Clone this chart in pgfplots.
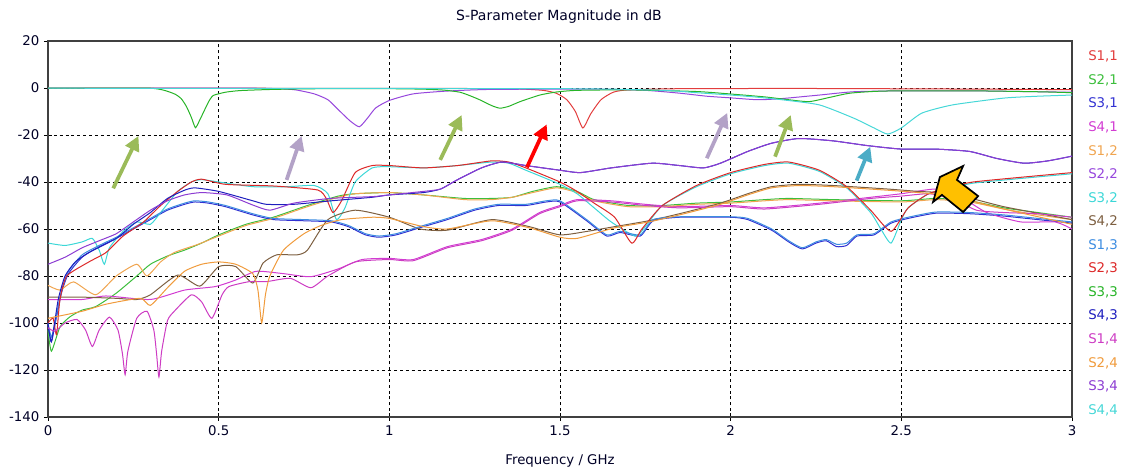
\documentclass[border=0pt]{standalone}
\usepackage{pgfplots}
\pgfplotsset{compat=1.18}
\usepackage{fontspec}
\setmainfont{DejaVu Sans}
\usetikzlibrary{arrows.meta}
\definecolor{c11}{RGB}{226,61,61}
\definecolor{c21}{RGB}{60,190,60}
\definecolor{c31}{RGB}{50,50,210}
\definecolor{c41}{RGB}{210,60,210}
\definecolor{c12}{RGB}{240,165,80}
\definecolor{c22}{RGB}{150,70,220}
\definecolor{c32}{RGB}{60,215,215}
\definecolor{c42}{RGB}{125,95,65}
\definecolor{c13}{RGB}{60,140,225}
\definecolor{c23}{RGB}{220,40,40}
\definecolor{c33}{RGB}{40,180,40}
\definecolor{c43}{RGB}{30,30,190}
\definecolor{c14}{RGB}{205,60,195}
\definecolor{c24}{RGB}{240,155,60}
\definecolor{c34}{RGB}{140,60,210}
\definecolor{c44}{RGB}{70,215,215}
\definecolor{agreen}{RGB}{155,187,89}
\definecolor{apurple}{RGB}{179,162,199}
\definecolor{ateal}{RGB}{75,172,198}
\definecolor{aorange}{RGB}{255,192,0}
\begin{document}
\begin{tikzpicture}
\path[use as bounding box] (-36pt,-39.75pt) rectangle (807.75pt,312.75pt);
\begin{axis}[
  at={(0pt,0pt)}, anchor=south west,
  width=768pt, height=282pt, scale only axis,
  xmin=0, xmax=3, ymin=-140, ymax=20,
  xtick={0,0.5,1,1.5,2,2.5,3},
  xticklabels={0,0.5,1,1.5,2,2.5,3},
  ytick={-140,-120,-100,-80,-60,-40,-20,0,20},
  yticklabels={-140,-120,-100,-80,-60,-40,-20,0,20},
  ticklabel style={font=\fontsize{10}{12}\selectfont, text=black!85!blue},
  grid=major,
  major grid style={black, line width=0.6pt, dash pattern=on 2.2pt off 2.2pt},
  axis line style={black!75, line width=0.9pt},
  tick style={black, line width=0.7pt},
  tick align=center, major tick length=6pt,
  xtick pos=bottom, ytick pos=left,
  no markers, clip=false,
  every axis plot/.append style={line width=0.75pt, smooth, tension=0.35},
]
% S1,1
\addplot[c11] coordinates {(0,-0.1)(0.5,-0.1)(1.0,-0.15)(1.35,-0.3)(1.45,-1)(1.49,-2.3)(1.52,-5)(1.545,-10)(1.567,-17)(1.59,-11)(1.62,-5)(1.656,-1.8)(1.7,-0.8)(1.85,-0.3)(2.2,-0.2)(2.6,-0.4)(3.0,-0.7)};
% S2,1
\addplot[c21] coordinates {(0,-103)(0.01,-112)(0.035,-101.7)(0.064,-97.4)(0.1,-94.5)(0.14,-93)(0.2,-87.3)(0.26,-80)(0.3,-75)(0.35,-71.5)(0.4,-69)(0.45,-66)(0.5,-62.5)(0.58,-58)(0.66,-55)(0.76,-50)(0.85,-46)(0.9,-45)(1.0,-44.5)(1.1,-45.5)(1.22,-47)(1.3,-47)(1.36,-46.5)(1.42,-44)(1.49,-42)(1.55,-44)(1.6,-47.5)(1.7,-50)(1.8,-50)(1.9,-49)(2.0,-48.5)(2.1,-47.5)(2.17,-47)(2.3,-47.5)(2.5,-48)(2.6,-47)(2.7,-48)(2.8,-51)(2.9,-53)(3.0,-55)};
% S3,1
\addplot[c31] coordinates {(0,-101)(0.01,-108)(0.02,-101)(0.04,-87)(0.06,-79)(0.1,-72)(0.15,-67.5)(0.2,-64)(0.25,-60)(0.3,-56)(0.35,-52)(0.4,-49.5)(0.43,-48.5)(0.47,-49)(0.52,-50.5)(0.6,-54)(0.66,-56)(0.75,-56.5)(0.83,-57)(0.88,-59)(0.93,-62.5)(0.97,-63.5)(1.02,-62.5)(1.1,-59)(1.17,-56)(1.25,-52)(1.32,-50)(1.4,-50)(1.46,-48.5)(1.5,-48.5)(1.578,-56.5)(1.637,-63)(1.676,-61.5)(1.735,-63)(1.773,-56.5)(1.85,-55)(2.0,-55)(2.05,-56)(2.12,-60.5)(2.17,-65.5)(2.21,-68.5)(2.25,-66)(2.28,-65)(2.31,-67.5)(2.34,-67)(2.37,-63)(2.42,-62.5)(2.47,-57.5)(2.52,-55.5)(2.6,-53.3)(2.7,-53.5)(2.8,-54.5)(2.9,-56)(3.0,-57.5)};
% S4,1
\addplot[c41] coordinates {(0,-90)(0.1,-90)(0.17,-88.5)(0.3,-90)(0.4,-86)(0.49,-84.5)(0.55,-81.7)(0.61,-78)(0.69,-79)(0.77,-80.3)(0.85,-77)(0.92,-73)(1.0,-72.5)(1.07,-73)(1.17,-67.5)(1.27,-64.5)(1.36,-60)(1.44,-53)(1.5,-50)(1.55,-47.5)(1.65,-48)(1.75,-49.5)(1.85,-50.5)(2.0,-50)(2.1,-51)(2.26,-49)(2.41,-46.5)(2.5,-45)(2.6,-43)(2.67,-46)(2.75,-53)(2.85,-57)(2.95,-57)(3.0,-60)};
% S1,2
\addplot[c12] coordinates {(0,-84)(0.035,-86)(0.075,-82.5)(0.14,-88)(0.2,-80)(0.26,-75)(0.29,-80)(0.33,-74)(0.37,-70)(0.44,-66.5)(0.5,-63)(0.58,-58.5)(0.66,-55.5)(0.76,-50.5)(0.85,-46.5)(0.9,-45)(1.0,-44.5)(1.1,-45.5)(1.22,-47.5)(1.3,-47.5)(1.36,-46.5)(1.42,-44.5)(1.49,-42.5)(1.55,-44.5)(1.6,-48)(1.7,-50.5)(1.8,-50.5)(1.9,-49.5)(2.0,-49)(2.1,-48)(2.17,-47.5)(2.3,-48)(2.5,-48.5)(2.6,-47.5)(2.7,-48.5)(2.8,-51.5)(2.9,-54)(3.0,-56)};
% S2,2
\addplot[c22] coordinates {(0,-0.1)(0.6,-0.1)(0.7,-0.5)(0.73,-0.9)(0.78,-2.5)(0.82,-5)(0.856,-10)(0.885,-14)(0.912,-16.5)(0.935,-13)(0.96,-8.5)(1.0,-5.3)(1.07,-2.5)(1.17,-1.3)(1.3,-0.6)(1.6,-0.5)(1.75,-1)(1.85,-2.2)(1.93,-3.5)(2.0,-4.2)(2.08,-5)(2.15,-4.5)(2.26,-3)(2.36,-1.6)(2.5,-1.2)(2.7,-1.2)(2.85,-1.5)(3.0,-1.8)};
% S3,2
\addplot[c32] coordinates {(0,-66)(0.05,-67)(0.1,-65.5)(0.13,-64)(0.15,-69)(0.165,-75)(0.18,-68)(0.22,-61)(0.26,-57)(0.3,-58)(0.33,-53)(0.38,-44)(0.42,-40)(0.45,-39)(0.5,-40)(0.6,-42)(0.7,-42)(0.78,-41.5)(0.82,-45)(0.845,-56)(0.87,-51)(0.9,-40)(0.95,-34)(1.0,-33.5)(1.1,-34)(1.2,-33)(1.3,-31.5)(1.35,-32)(1.4,-35)(1.5,-41)(1.55,-45)(1.6,-51)(1.65,-57)(1.72,-63)(1.75,-59)(1.8,-50)(1.9,-42)(2.0,-36.5)(2.1,-33)(2.17,-32)(2.26,-35.5)(2.34,-42.5)(2.41,-53)(2.44,-60)(2.47,-66)(2.5,-56)(2.52,-51)(2.58,-45)(2.65,-42.5)(2.71,-40.5)(2.85,-38.5)(3.0,-36.5)};
% S4,2
\addplot[c42] coordinates {(0,-89)(0.1,-89)(0.2,-89.5)(0.26,-90)(0.3,-88)(0.38,-79.6)(0.445,-84.3)(0.5,-76)(0.55,-76)(0.6,-83)(0.63,-74.5)(0.67,-71)(0.73,-71)(0.76,-69)(0.82,-56)(0.9,-52)(1.0,-55)(1.09,-60)(1.17,-60.5)(1.3,-56)(1.41,-59)(1.5,-62.5)(1.58,-61)(1.66,-59)(1.76,-56.5)(1.85,-53.5)(1.97,-49)(2.05,-45)(2.12,-42)(2.2,-41)(2.3,-41.5)(2.46,-43)(2.55,-44)(2.65,-45)(2.8,-50.5)(3.0,-56)};
% S1,3
\addplot[c13] coordinates {(0,-100)(0.01,-106)(0.02,-100)(0.04,-86)(0.06,-78)(0.1,-71)(0.15,-67)(0.2,-63.5)(0.25,-59.5)(0.3,-55.5)(0.35,-51.5)(0.4,-49)(0.43,-48)(0.47,-48.5)(0.52,-50)(0.6,-53.5)(0.66,-55.5)(0.75,-56)(0.83,-56.5)(0.88,-58.5)(0.93,-62)(0.97,-63)(1.02,-62)(1.1,-58.5)(1.17,-55.5)(1.25,-51.5)(1.32,-49.5)(1.4,-49.5)(1.46,-48)(1.5,-48)(1.578,-56)(1.637,-62.5)(1.676,-61)(1.735,-62.5)(1.773,-56)(1.85,-54.8)(2.0,-54.8)(2.05,-55.5)(2.12,-60)(2.17,-65)(2.21,-68)(2.25,-65.5)(2.28,-64.5)(2.31,-66.5)(2.34,-66)(2.37,-62.5)(2.42,-62)(2.47,-57)(2.52,-55)(2.6,-52.8)(2.7,-53)(2.8,-54)(2.9,-55.5)(3.0,-57)};
% S2,3
\addplot[c23] coordinates {(0,-100)(0.015,-98)(0.025,-105)(0.035,-90)(0.055,-80)(0.12,-74)(0.17,-70)(0.22,-63)(0.28,-57)(0.33,-50)(0.38,-44)(0.42,-40)(0.45,-38.8)(0.52,-41)(0.66,-41.7)(0.79,-43.4)(0.815,-47)(0.835,-53)(0.86,-48)(0.9,-36)(0.95,-33)(1.0,-33)(1.1,-34)(1.2,-33)(1.3,-31)(1.35,-31.5)(1.4,-34)(1.5,-40)(1.55,-44)(1.6,-49)(1.66,-55)(1.71,-66)(1.74,-60)(1.8,-50)(1.9,-41.5)(2.0,-36)(2.1,-32.5)(2.17,-31.5)(2.26,-35)(2.34,-42)(2.41,-52)(2.47,-61)(2.52,-51)(2.58,-45)(2.65,-42)(2.71,-40)(2.85,-38)(3.0,-36)};
% S3,3
\addplot[c33] coordinates {(0,-0.1)(0.3,-0.1)(0.367,-2.3)(0.39,-4.5)(0.406,-8)(0.42,-12.5)(0.432,-16.9)(0.445,-13.5)(0.455,-10.5)(0.47,-6)(0.484,-3.2)(0.52,-1.8)(0.563,-1.1)(0.66,-0.6)(0.8,-0.3)(1.0,-0.3)(1.1,-0.5)(1.16,-0.9)(1.207,-1.8)(1.24,-3.5)(1.266,-5.1)(1.3,-7.5)(1.324,-8.6)(1.35,-7.8)(1.383,-5.8)(1.441,-3)(1.49,-1.7)(1.55,-1)(1.7,-0.8)(1.9,-1.5)(2.02,-2.8)(2.1,-3.8)(2.17,-5)(2.23,-5.8)(2.29,-4)(2.35,-2.2)(2.45,-1.3)(2.7,-1.2)(2.9,-1.6)(3.0,-2.0)};
% S4,3
\addplot[c43] coordinates {(0,-100)(0.01,-108)(0.03,-90)(0.05,-80)(0.08,-74)(0.12,-70)(0.2,-64)(0.25,-58)(0.3,-53)(0.35,-47)(0.4,-43.5)(0.43,-42.5)(0.5,-44)(0.6,-48)(0.64,-49.5)(0.72,-49.5)(0.83,-48)(0.95,-46.5)(1.0,-45.5)(1.1,-44.5)(1.15,-43)(1.2,-39)(1.27,-34)(1.33,-31.5)(1.4,-33)(1.5,-35)(1.56,-36)(1.65,-34)(1.77,-32)(1.85,-33)(1.92,-34)(1.97,-32)(2.05,-27)(2.12,-23.5)(2.2,-21.5)(2.3,-22.5)(2.4,-24.5)(2.5,-26)(2.6,-26)(2.7,-27)(2.78,-30)(2.86,-32)(2.93,-31)(3.0,-29)};
% S1,4
\addplot[c14] coordinates {(0,-102)(0.02,-103.5)(0.05,-100)(0.085,-98.5)(0.11,-103)(0.13,-110)(0.15,-103)(0.18,-97.5)(0.205,-103)(0.218,-113)(0.226,-122)(0.234,-112)(0.26,-98)(0.29,-95)(0.31,-103)(0.318,-113)(0.325,-123)(0.333,-112)(0.35,-99)(0.37,-95)(0.42,-88)(0.45,-91)(0.48,-98)(0.51,-88)(0.53,-84.5)(0.59,-82.4)(0.64,-82.4)(0.71,-81)(0.77,-85)(0.82,-80)(0.9,-74)(1.0,-73)(1.07,-73.5)(1.17,-68)(1.27,-65)(1.36,-60.5)(1.44,-53.5)(1.5,-50.5)(1.55,-48)(1.65,-48.5)(1.75,-50)(1.85,-51)(2.0,-50.5)(2.1,-51.5)(2.26,-49.5)(2.41,-47)(2.5,-46)(2.58,-45)(2.65,-47)(2.72,-52)(2.8,-53)(2.9,-53.5)(3.0,-55)};
% S2,4
\addplot[c24] coordinates {(0,-98)(0.1,-95)(0.17,-92)(0.27,-89.5)(0.3,-92.5)(0.35,-85)(0.4,-78)(0.45,-75)(0.5,-74)(0.55,-75)(0.6,-79)(0.615,-86)(0.626,-100)(0.637,-88)(0.65,-80)(0.69,-69)(0.75,-62)(0.8,-58.5)(0.86,-56)(0.95,-55)(1.0,-55.5)(1.1,-59)(1.17,-60)(1.3,-56.5)(1.41,-59.5)(1.5,-63.5)(1.55,-64)(1.66,-59.5)(1.76,-57)(1.85,-54)(1.97,-49.5)(2.05,-45.5)(2.12,-42.5)(2.2,-41.5)(2.3,-42)(2.46,-43.5)(2.55,-44.5)(2.65,-46)(2.8,-51.5)(3.0,-58)};
% S3,4
\addplot[c34] coordinates {(0,-75)(0.05,-72)(0.1,-68)(0.15,-65)(0.2,-62)(0.25,-57)(0.3,-52)(0.35,-48)(0.4,-45.5)(0.45,-44.5)(0.524,-45.5)(0.6,-49.8)(0.65,-52)(0.72,-49)(0.826,-47)(0.953,-46.2)(1.0,-45.5)(1.1,-44)(1.15,-43)(1.2,-39)(1.27,-34)(1.33,-31.5)(1.4,-33)(1.5,-35)(1.56,-36)(1.65,-34)(1.77,-32)(1.85,-33)(1.92,-34)(1.97,-32)(2.05,-27)(2.12,-23.5)(2.2,-21.5)(2.3,-22.5)(2.4,-24.5)(2.5,-26)(2.6,-26)(2.7,-27)(2.78,-30)(2.86,-32)(2.93,-31)(3.0,-29)};
% S4,4
\addplot[c44] coordinates {(0,-0.1)(1.5,-0.3)(1.8,-1)(1.9,-2)(2.0,-3)(2.07,-3.8)(2.15,-5)(2.26,-7.2)(2.36,-12.8)(2.42,-17)(2.46,-19.6)(2.5,-17)(2.56,-10.7)(2.65,-7.2)(2.8,-4.3)(2.9,-3.5)(3.0,-3)};
% annotation arrows
\draw[agreen, line width=2.8pt, -{Triangle[length=11pt,width=11pt]}] (axis cs:0.191,-42.7) -- (axis cs:0.265,-20.4);
\draw[apurple, line width=2.8pt, -{Triangle[length=11pt,width=11pt]}] (axis cs:0.699,-39.1) -- (axis cs:0.743,-20.4);
\draw[agreen, line width=2.8pt, -{Triangle[length=11pt,width=11pt]}] (axis cs:1.149,-30.6) -- (axis cs:1.212,-11.5);
\draw[red, line width=2.8pt, -{Triangle[length=11pt,width=11pt]}] (axis cs:1.403,-33.8) -- (axis cs:1.461,-15.5);
\draw[apurple, line width=2.8pt, -{Triangle[length=11pt,width=11pt]}] (axis cs:1.930,-29.9) -- (axis cs:1.990,-10.6);
\draw[agreen, line width=2.8pt, -{Triangle[length=11pt,width=11pt]}] (axis cs:2.130,-29.2) -- (axis cs:2.176,-11.5);
\draw[ateal, line width=2.8pt, -{Triangle[length=11pt,width=11pt]}] (axis cs:2.369,-39.4) -- (axis cs:2.409,-25);
\draw[black, line width=1.3pt, fill=aorange, line join=miter] (axis cs:2.613,-37.9) -- (axis cs:2.681,-33.2) -- (axis cs:2.663,-39.1) -- (axis cs:2.725,-46.0) -- (axis cs:2.681,-52.8) -- (axis cs:2.619,-45.5) -- (axis cs:2.593,-48.5) -- cycle;
% title and label
\node[font=\fontsize{10.5}{12}\selectfont, text=black!85!blue] at (rel axis cs:0.499,1) [yshift=18pt] {S-Parameter Magnitude in dB};
\node[font=\fontsize{10}{12}\selectfont, text=black!85!blue] at (rel axis cs:0.5,0) [yshift=-33pt] {Frequency / GHz};
\end{axis}
% legend
\foreach \lab/\col [count=\i from 0] in {S1{,}1/c11,S2{,}1/c21,S3{,}1/c31,S4{,}1/c41,S1{,}2/c12,S2{,}2/c22,S3{,}2/c32,S4{,}2/c42,S1{,}3/c13,S2{,}3/c23,S3{,}3/c33,S4{,}3/c43,S1{,}4/c14,S2{,}4/c24,S3{,}4/c34,S4{,}4/c44}{
  \node[anchor=west, inner sep=0pt, font=\fontsize{10}{12}\selectfont, text=\col] at (780pt,{270.2pt-17.66pt*\i}) {\lab};
}
\end{tikzpicture}
\end{document}
